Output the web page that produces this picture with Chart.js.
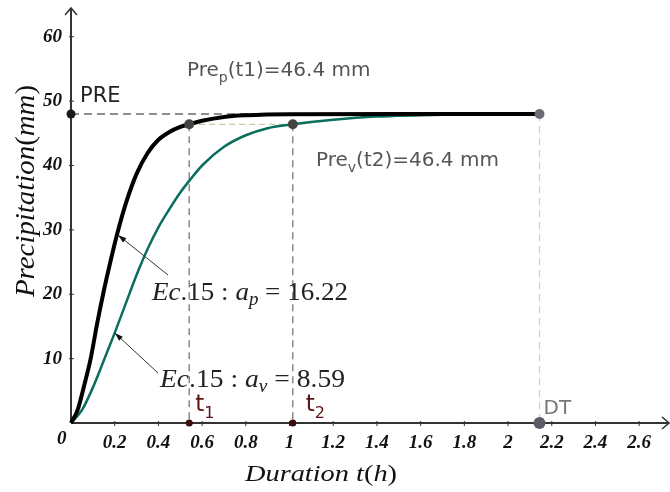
<!DOCTYPE html>
<html lang="en">
<head>
    <meta charset="UTF-8">
    <title>Precipitation vs duration</title>
    <script src="https://cdn.jsdelivr.net/npm/chart.js"></script>
    <style>
        body { margin: 0; background: #fff; }
        canvas { display: block; }
    </style>
</head>
<body>
    <canvas id="chart" width="670" height="492"></canvas>

    <script>
        // curve: Ec.15, a_p = 16.22 (black)
        const tBlack = [0, 0.03, 0.06, 0.09, 0.12, 0.15, 0.18, 0.21, 0.25, 0.30, 0.35, 0.40, 0.45, 0.50, 0.541, 0.60, 0.70, 0.80, 1.0, 1.5, 2.144];
        const pBlack = [0, 2.0, 5.8, 10.0, 15.5, 20.5, 25.0, 29.2, 34.0, 38.7, 41.9, 44.0, 45.2, 46.0, 46.4, 46.95, 47.55, 47.8, 47.97, 48.0, 48.0];

        // Ec.15, a_v = 8.59 (green)
        const tGreen = [0, 0.05, 0.10, 0.15, 0.20, 0.25, 0.30, 0.35, 0.40, 0.45, 0.50, 0.55, 0.60, 0.70, 0.80, 0.90, 1.015, 1.2, 1.4, 1.7, 2.144];
        const pGreen = [0, 2.0, 5.5, 9.7, 14.0, 18.5, 23.0, 27.0, 30.4, 33.2, 35.8, 38.0, 40.0, 42.9, 44.7, 45.8, 46.4, 47.1, 47.6, 47.9, 48.0];

        // marked points
        const PRE = 48;
        const level = 46.4;
        const t1 = 0.541;
        const t2 = 1.015;
        const DT = 2.144;

        const xTicks = [0.2, 0.4, 0.6, 0.8, 1, 1.2, 1.4, 1.6, 1.8, 2, 2.2, 2.4, 2.6];
        const yTicks = [10, 20, 30, 40, 50, 60];

        const toPts = (xs, ys) => xs.map((x, i) => ({ x: x, y: ys[i] }));
        const tickFont = { family: 'Liberation Serif', size: 19, style: 'italic', weight: 'bold' };

        function dashed(a, b, color, dash) {
            return {
                data: [a, b], showLine: true, pointRadius: 0, borderColor: color,
                borderWidth: 1.3, borderDash: dash, order: 3, clip: false
            };
        }

        // draws text made of italic / upright parts, squeezed to a width
        function mathText(ctx, parts, size, width) {
            let total = 0;
            parts.forEach(p => {
                ctx.font = (p.it ? 'italic ' : '') + (p.sub ? size * 0.7 : size) + 'px "Liberation Serif"';
                p.w = ctx.measureText(p.t).width;
                total += p.w;
            });
            ctx.save();
            ctx.scale(width / total, 1);
            let x = 0;
            parts.forEach(p => {
                ctx.font = (p.it ? 'italic ' : '') + (p.sub ? size * 0.7 : size) + 'px "Liberation Serif"';
                ctx.fillText(p.t, x, p.sub ? size * 0.2 : 0);
                x += p.w;
            });
            ctx.restore();
        }

        function subText(ctx, main, sub, rest, x, y, size) {
            ctx.font = size + 'px "DejaVu Sans"';
            ctx.fillText(main, x, y);
            x += ctx.measureText(main).width;
            ctx.font = Math.round(size * 0.7) + 'px "DejaVu Sans"';
            ctx.fillText(sub, x, y + size * 0.32);
            x += ctx.measureText(sub).width;
            ctx.font = size + 'px "DejaVu Sans"';
            ctx.fillText(rest, x, y);
        }

        function arrow(ctx, x0, y0, x1, y1) {
            ctx.strokeStyle = '#333';
            ctx.lineWidth = 1;
            ctx.beginPath();
            ctx.moveTo(x0, y0);
            ctx.lineTo(x1, y1);
            ctx.stroke();
            const a = Math.atan2(y1 - y0, x1 - x0);
            ctx.fillStyle = '#111';
            ctx.beginPath();
            ctx.moveTo(x1, y1);
            ctx.lineTo(x1 - 9 * Math.cos(a - 0.3), y1 - 9 * Math.sin(a - 0.3));
            ctx.lineTo(x1 - 9 * Math.cos(a + 0.3), y1 - 9 * Math.sin(a + 0.3));
            ctx.closePath();
            ctx.fill();
        }

        const axesPlugin = {
            id: 'axes',
            beforeDatasetsDraw(chart) {
                const ctx = chart.ctx;
                const xs = chart.scales.x, ys = chart.scales.y;
                const x0 = xs.getPixelForValue(0), y0 = ys.getPixelForValue(0);
                ctx.save();
                ctx.strokeStyle = '#333';
                ctx.lineWidth = 2;
                ctx.beginPath();
                ctx.moveTo(x0, y0);
                ctx.lineTo(x0, 8);
                ctx.moveTo(x0, y0);
                ctx.lineTo(669, y0);
                ctx.stroke();
                // arrow heads
                ctx.lineWidth = 1.5;
                ctx.beginPath();
                ctx.moveTo(x0 - 6, 15);
                ctx.lineTo(x0, 8);
                ctx.lineTo(x0 + 6, 15);
                ctx.moveTo(662, y0 - 6);
                ctx.lineTo(669, y0);
                ctx.lineTo(662, y0 + 6);
                ctx.stroke();
                // tick marks
                ctx.lineWidth = 1;
                ctx.beginPath();
                xTicks.forEach(v => {
                    const p = xs.getPixelForValue(v);
                    ctx.moveTo(p, y0 - 2);
                    ctx.lineTo(p, y0 + 3);
                });
                yTicks.forEach(v => {
                    const p = ys.getPixelForValue(v);
                    ctx.moveTo(x0 - 2, p);
                    ctx.lineTo(x0 + 3, p);
                });
                ctx.stroke();
                ctx.restore();
            },
            afterDraw(chart) {
                const ctx = chart.ctx;
                const xs = chart.scales.x, ys = chart.scales.y;
                ctx.save();
                ctx.textBaseline = 'alphabetic';

                ctx.fillStyle = '#111';
                ctx.font = 'bold italic 19px "Liberation Serif"';
                ctx.fillText('0', 57, 444);

                // point labels
                ctx.fillStyle = '#222';
                ctx.font = '21px "DejaVu Sans"';
                ctx.fillText('PRE', 80, 102);
                ctx.fillStyle = '#555';
                subText(ctx, 'Pre', 'p', '(t1)=46.4 mm', 187, 76, 20);
                subText(ctx, 'Pre', 'v', '(t2)=46.4 mm', 316, 166, 20);
                ctx.fillStyle = '#777';
                ctx.font = '20px "DejaVu Sans"';
                ctx.fillText('DT', xs.getPixelForValue(DT) + 4, 414);
                ctx.fillStyle = '#5a1414';
                subText(ctx, 't', '1', '', xs.getPixelForValue(t1) + 6, 411, 23);
                subText(ctx, 't', '2', '', xs.getPixelForValue(t2) + 13, 411, 23);

                // equation labels with arrows
                arrow(ctx, 168, 275, xs.getPixelForValue(0.215), ys.getPixelForValue(29.2));
                arrow(ctx, 158, 373, xs.getPixelForValue(0.2), ys.getPixelForValue(14.0));
                ctx.fillStyle = '#222';
                ctx.save();
                ctx.translate(152, 300);
                mathText(ctx, [{ t: 'Ec', it: true }, { t: '.15 : ' }, { t: 'a', it: true }, { t: 'p', it: true, sub: true }, { t: ' = 16.22' }], 26, 196);
                ctx.restore();
                ctx.save();
                ctx.translate(160, 387);
                mathText(ctx, [{ t: 'Ec', it: true }, { t: '.15 : ' }, { t: 'a', it: true }, { t: 'v', it: true, sub: true }, { t: ' = 8.59' }], 26, 185);
                ctx.restore();

                // axis titles
                ctx.fillStyle = '#111';
                ctx.save();
                ctx.translate(245, 481);
                mathText(ctx, [{ t: 'Duration t', it: true }, { t: '(' }, { t: 'h', it: true }, { t: ')' }], 24, 152);
                ctx.restore();
                ctx.save();
                ctx.translate(34, 297);
                ctx.rotate(-Math.PI / 2);
                mathText(ctx, [{ t: 'Precipitation', it: true }, { t: '(' }, { t: 'mm', it: true }, { t: ')' }], 27, 212);
                ctx.restore();

                ctx.restore();
            }
        };

        new Chart(document.getElementById('chart'), {
            type: 'scatter',
            data: {
                datasets: [
                    {
                        data: [
                            { x: 0, y: PRE }, { x: t1, y: level }, { x: t2, y: level },
                            { x: DT, y: PRE }, { x: DT, y: 0 }, { x: t1, y: 0 }, { x: t2, y: 0 }
                        ],
                        pointRadius: [4.5, 5, 5, 5, 6, 3.5, 3.5],
                        pointBackgroundColor: ['#1a1a1a', '#444', '#444', '#6b6b76', '#5d5d68', '#3a0b0b', '#3a0b0b'],
                        pointBorderWidth: 0,
                        order: 0,
                        clip: false
                    },
                    {
                        data: toPts(tBlack, pBlack), showLine: true, pointRadius: 0,
                        borderColor: '#000', borderWidth: 4, cubicInterpolationMode: 'monotone', order: 1, clip: false
                    },
                    {
                        data: toPts(tGreen, pGreen), showLine: true, pointRadius: 0,
                        borderColor: '#0a6e5c', borderWidth: 2.5, cubicInterpolationMode: 'monotone', order: 2, clip: false
                    },
                    dashed({ x: 0, y: PRE }, { x: DT, y: PRE }, '#6a6a6a', [8, 5]),
                    dashed({ x: t1, y: level }, { x: t2, y: level }, '#c9caa6', [6, 4]),
                    dashed({ x: t1, y: level }, { x: t1, y: 0 }, '#777', [7, 5]),
                    dashed({ x: t2, y: level }, { x: t2, y: 0 }, '#777', [7, 5]),
                    dashed({ x: DT, y: PRE }, { x: DT, y: 0 }, '#cfcfcf', [7, 5])
                ]
            },
            options: {
                responsive: false,
                animation: false,
                layout: { padding: { top: 11, right: 2, left: 0, bottom: 0 } },
                plugins: { legend: { display: false }, tooltip: { enabled: false } },
                scales: {
                    x: {
                        type: 'linear', min: 0, max: 597 / 220,
                        grid: { display: false },
                        border: { display: false },
                        afterFit: s => { s.height = 69; s.paddingLeft = 0; s.paddingRight = 0; },
                        afterBuildTicks: s => { s.ticks = xTicks.map(v => ({ value: v })); },
                        ticks: { font: tickFont, color: '#111', padding: 1, maxRotation: 0, callback: v => String(v) }
                    },
                    y: {
                        type: 'linear', min: 0, max: 64,
                        grid: { display: false },
                        border: { display: false },
                        afterFit: s => { s.width = 71; s.paddingTop = 0; s.paddingBottom = 0; },
                        afterBuildTicks: s => { s.ticks = yTicks.map(v => ({ value: v })); },
                        ticks: { font: tickFont, color: '#111', padding: 1, callback: v => String(v) }
                    }
                }
            },
            plugins: [axesPlugin]
        });
    </script>
</body>
</html>
